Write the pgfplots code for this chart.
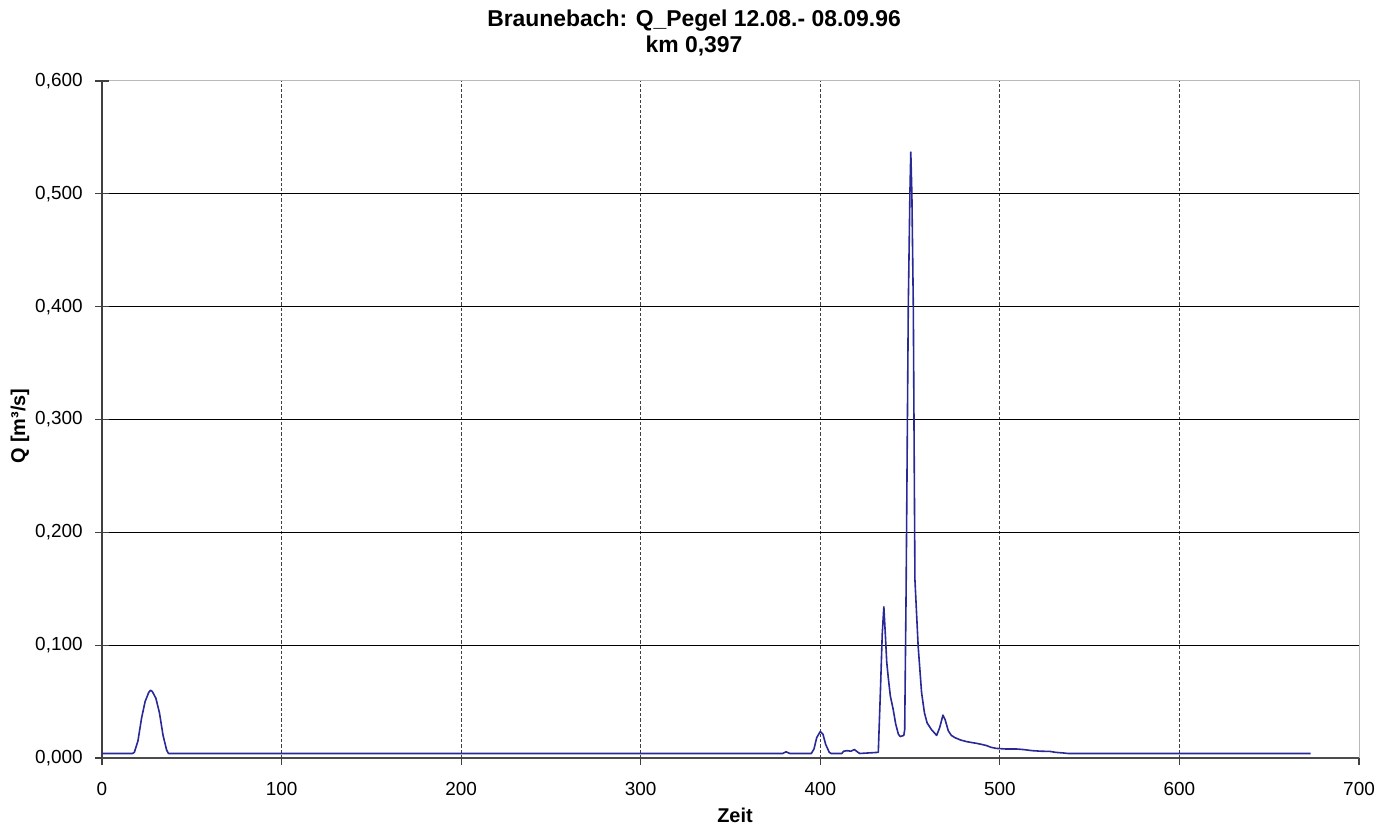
\documentclass[border=0pt]{standalone}
\usepackage{fontspec}
\setmainfont{Liberation Sans}
\usepackage{pgfplots}
\pgfplotsset{compat=1.18}
\usetikzlibrary{calc}

\definecolor{qline}{RGB}{40,40,150}

\begin{document}
\begin{tikzpicture}
  \begin{axis}[name=ax, scale only axis, width=628.5bp, height=338.5bp,
      xmin=0, xmax=700, ymin=0, ymax=0.6,
      axis x line*=bottom, axis y line*=left,
      axis background/.style={draw=gray!55, line width=0.5bp},
      x axis line style={black!70, line width=1bp, -},
      y axis line style={black!75, line width=1.2bp, -},
      xtick={0,100,...,700}, ytick={0,0.1,0.2,0.3,0.4,0.5,0.6},
      extra x ticks={100,200,300,400,500,600}, extra x tick labels={},
      extra y ticks={0.1,0.2,0.3,0.4,0.5}, extra y tick labels={},
      extra x tick style={grid=major},
      extra y tick style={grid=major},
      x grid style={black!75, line width=0.6bp, dash pattern=on 1.6bp off 1bp},
      y grid style={black, line width=0.6bp},
      major tick length=7bp, xtick align=outside, ytick align=center,
      tick style={black!75, line width=0.6bp},
      xtick style={/pgfplots/major tick length=3.5bp},
      tick label style={font=\fontsize{9.5}{11}\selectfont},
      /pgf/number format/assume math mode=true,
      y tick label style={/pgf/number format/fixed, /pgf/number format/fixed zerofill,
        /pgf/number format/precision=3, /pgf/number format/use comma},
      xticklabel style={anchor=base, yshift=-12bp},
      yticklabel style={anchor=east, inner sep=0pt, xshift=-6bp},
      title={Braunebach: Q\_Pegel 12.08.- 08.09.96\\km 0,397},
      title style={at={(0.471,1)}, anchor=south, inner sep=0pt, yshift=6.5bp, align=center,
        font=\bfseries\fontsize{11.5}{13}\selectfont},
      xlabel={Zeit},
      xlabel style={at={(axis description cs:0.5036,0)}, anchor=base, yshift=-32.5bp,
        font=\bfseries\fontsize{10}{12}\selectfont},
      ylabel={Q [m³/s]},
      ylabel style={at={(axis description cs:-0.0652,0.49)}, anchor=center,
        font=\bfseries\fontsize{10}{12}\selectfont},
    ]
    \addplot[qline, line width=0.8bp, line join=round] coordinates {
      (0,0.004) (17,0.004) (18,0.005) (20,0.015) (22,0.035) (24,0.050) (26,0.058)
      (27,0.060) (28,0.059) (30,0.053) (32,0.040) (34,0.020) (36,0.007) (37,0.004)
      (379,0.004) (381,0.0055) (383,0.004) (395,0.004) (396.5,0.008) (398,0.018)
      (400,0.0235) (401.5,0.021) (403,0.012) (405,0.005) (406,0.004) (412,0.004)
      (413,0.006) (415,0.0065) (417,0.006) (419,0.0075) (421,0.005) (422,0.004)
      (432.3,0.005) (433.5,0.06) (434.5,0.11) (435.4,0.134) (436.2,0.11) (437,0.085)
      (437.8,0.072) (439,0.055) (440.6,0.043) (442,0.030) (443.5,0.021) (444.5,0.019)
      (446.5,0.020) (447,0.025) (447.8,0.15) (449,0.40) (449.9,0.50) (450.4,0.537)
      (451,0.50) (451.8,0.40) (452.7,0.158) (454.5,0.099) (456.4,0.058) (458,0.040)
      (459.5,0.031) (462,0.025) (464.8,0.020) (466.5,0.027) (468.3,0.038) (469.5,0.034)
      (471.3,0.024) (473,0.020) (475,0.018) (478,0.016) (481.5,0.0145) (485,0.0135)
      (487,0.013) (490,0.012) (492.6,0.011) (495,0.0095) (498,0.0085) (503,0.008)
      (509,0.008) (513,0.0075) (518,0.0065) (523,0.006) (528,0.0058) (531,0.005)
      (535,0.0045) (538,0.004) (673,0.004)
    };
  \end{axis}
  \pgfresetboundingbox
  \path[use as bounding box] ($(ax.south west)+(-51bp,-35bp)$) rectangle ($(ax.north east)+(8.5bp,40.5bp)$);
\end{tikzpicture}
\end{document}
